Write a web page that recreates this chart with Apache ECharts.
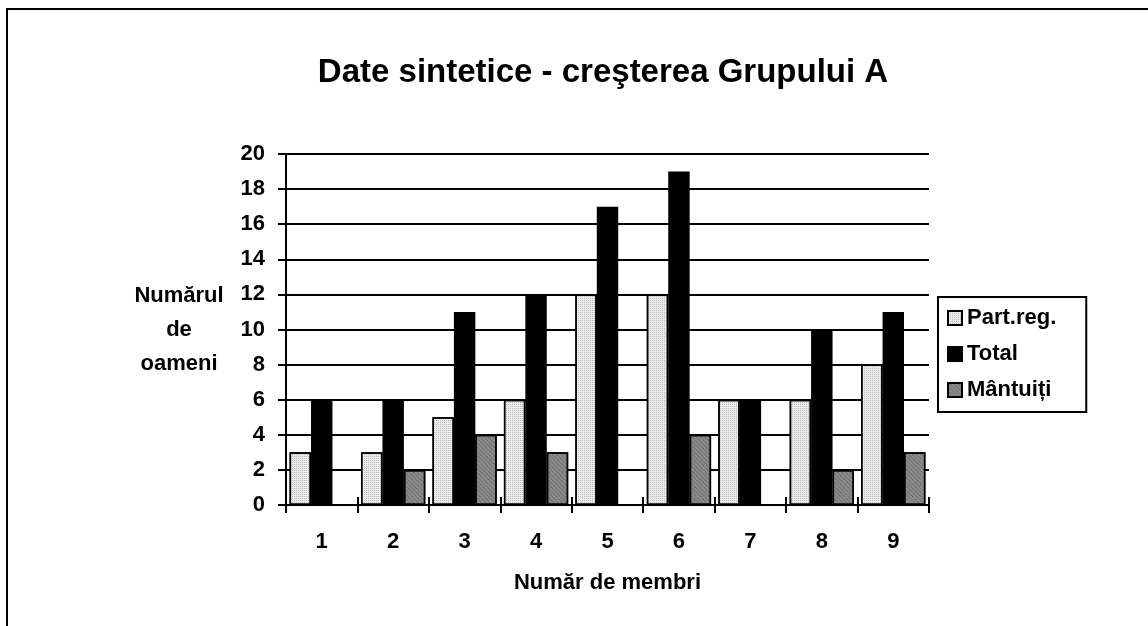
<!DOCTYPE html>
<html>
<head>
<meta charset="utf-8">
<script src="https://cdn.jsdelivr.net/npm/echarts@6/dist/echarts.min.js"></script>
<style>
html,body{margin:0;padding:0;background:#fff;}
#chart{width:1148px;height:626px;}
</style>
</head>
<body>
<div id="chart"></div>
<script>
var titleText = 'Date sintetice - creşterea Grupului A';
var categories = ['1','2','3','4','5','6','7','8','9'];
var seriesNames = ['Part.reg.', 'Total', 'Mântuiți'];
var partReg = [3, 3, 5, 6, 12, 12, 6, 6, 8];
var total = [6, 6, 11, 12, 17, 19, 6, 10, 11];
var mantuiti = [0, 2, 4, 3, 0, 4, 0, 2, 3];
var yAxisName = 'Numărul\nde\noameni';
var xAxisName = 'Număr de membri';

var FONT = '"Liberation Sans", Arial, sans-serif';
var chart = echarts.init(document.getElementById('chart'), null, {renderer: 'canvas'});

var option = {
  backgroundColor: '#ffffff',
  animation: false,
  graphic: [
    {type: 'rect', shape: {x: 7, y: 9, width: 1200, height: 700},
     style: {fill: 'none', stroke: '#000', lineWidth: 2}},
    {type: 'text', x: 603, y: 73,
     style: {text: titleText, align: 'center', verticalAlign: 'middle',
             font: 'bold 33px "Liberation Sans", Arial, sans-serif', fill: '#000'}}
  ],
  grid: {left: 286, right: 219, top: 154, bottom: 121, containLabel: false},
  legend: {
    orient: 'vertical', left: 938, top: 297,
    data: seriesNames,
    icon: 'rect', itemWidth: 14, itemHeight: 14, itemGap: 14,
    padding: [10, 30, 11, 9],
    borderColor: '#000', borderWidth: 2,
    textStyle: {fontFamily: FONT, fontWeight: 'bold', fontSize: 22, color: '#000'}
  },
  xAxis: [
    {type: 'category', data: categories, boundaryGap: true,
     axisLine: {lineStyle: {color: '#000', width: 2}},
     axisTick: {show: true, alignWithLabel: false, length: 8, lineStyle: {color: '#000', width: 2}},
     axisLabel: {fontFamily: FONT, fontWeight: 'bold', fontSize: 22, color: '#000', margin: 26},
     name: xAxisName, nameLocation: 'middle', nameGap: 78,
     nameTextStyle: {fontFamily: FONT, fontWeight: 'bold', fontSize: 22, color: '#000', verticalAlign: 'middle'}
    },
    {type: 'category', data: categories, boundaryGap: true, position: 'bottom',
     axisLine: {show: false},
     axisTick: {show: true, inside: true, alignWithLabel: false, length: 8, lineStyle: {color: '#000', width: 2}},
     axisLabel: {show: false}
    }
  ],
  yAxis: {
    type: 'value', min: 0, max: 20, interval: 2,
    axisLine: {show: true, lineStyle: {color: '#000', width: 2}},
    axisTick: {show: true, length: 8, lineStyle: {color: '#000', width: 2}},
    splitLine: {show: true, lineStyle: {color: '#000', width: 2}},
    axisLabel: {fontFamily: FONT, fontWeight: 'bold', fontSize: 22, color: '#000', margin: 21},
    name: yAxisName, nameLocation: 'middle', nameRotate: 0, nameGap: 107,
    nameTextStyle: {fontFamily: FONT, fontWeight: 'bold', fontSize: 22, color: '#000',
                    align: 'center', verticalAlign: 'middle', lineHeight: 34}
  },
  series: [
    {name: seriesNames[0], type: 'bar', data: partReg, barGap: '0%', barCategoryGap: '10%',
     itemStyle: {color: '#ececec', borderColor: '#000', borderWidth: 1.5,
       decal: {symbol: 'rect', symbolSize: 1, dashArrayX: [1, 1], dashArrayY: [1, 1], color: 'rgba(150,150,150,0.55)', rotation: 0}}},
    {name: seriesNames[1], type: 'bar', data: total, barGap: '0%', barCategoryGap: '10%',
     itemStyle: {color: '#000', borderColor: '#000', borderWidth: 1.5}},
    {name: seriesNames[2], type: 'bar', data: mantuiti, barGap: '0%', barCategoryGap: '10%',
     itemStyle: {color: '#8a8a8a', borderColor: '#000', borderWidth: 1.5,
       decal: {symbol: 'rect', symbolSize: 1, dashArrayX: [1, 2], dashArrayY: [1, 1], color: 'rgba(60,60,60,0.6)', rotation: -0.785}}}
  ]
};
chart.setOption(option);
</script>
</body>
</html>
